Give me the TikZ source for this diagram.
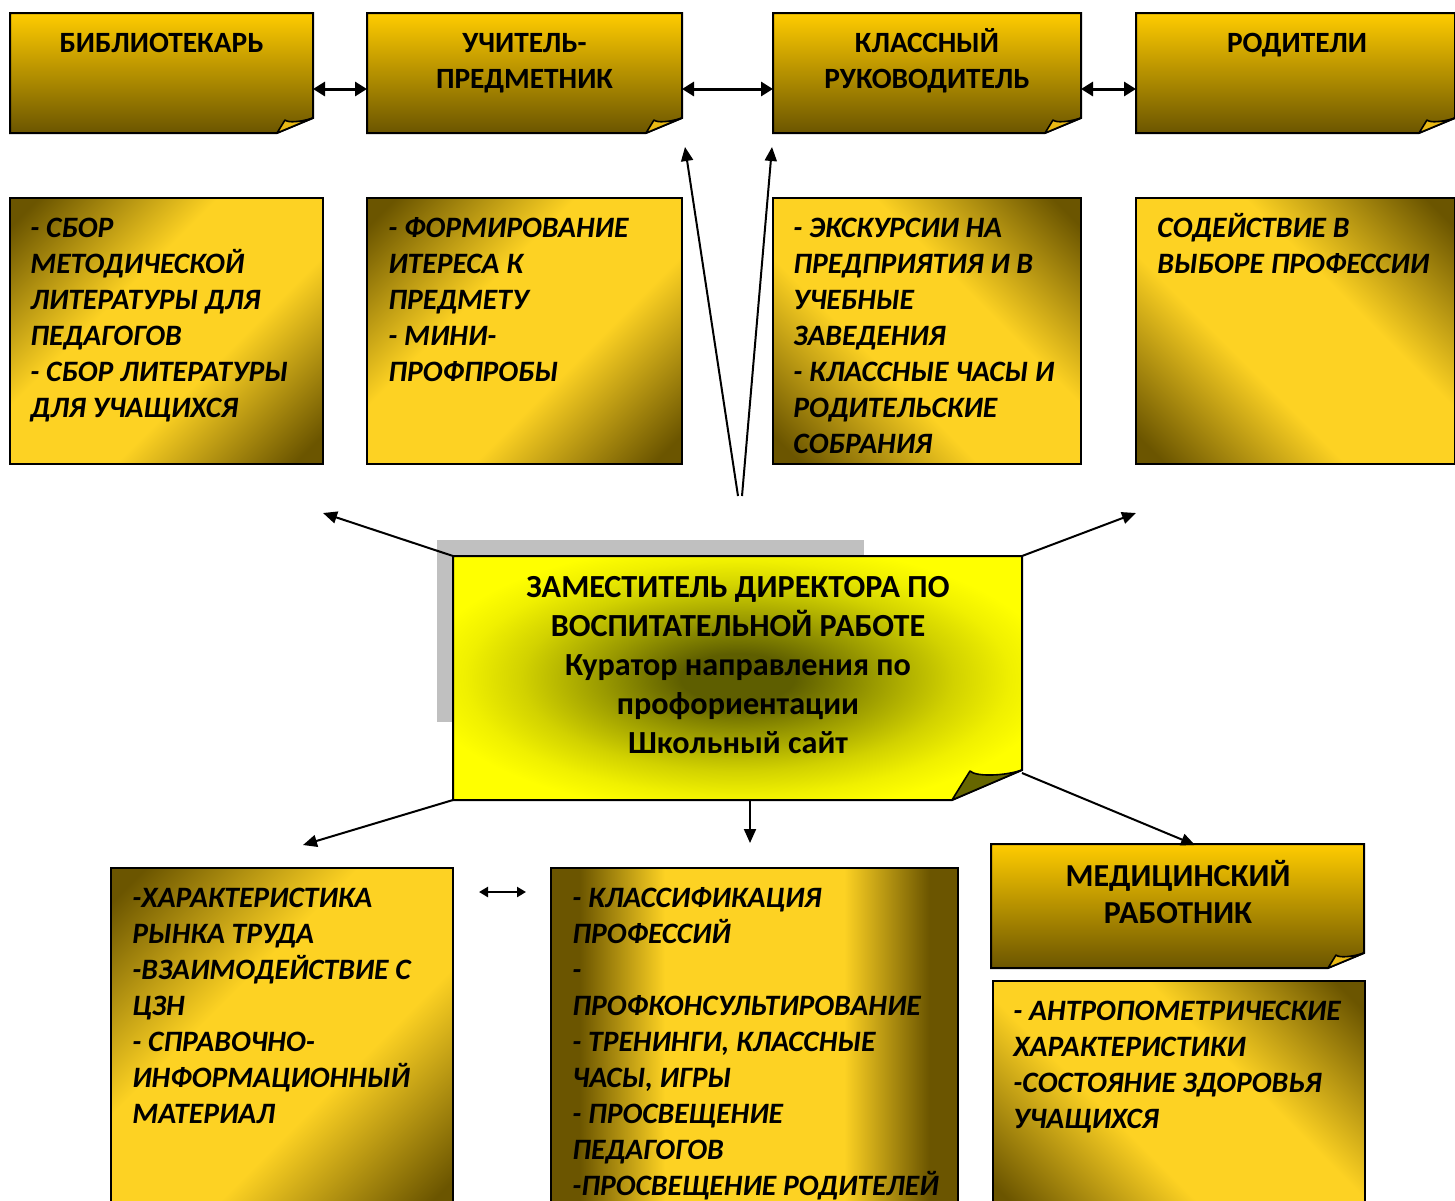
\documentclass[tikz,border=0pt]{standalone}
\usepackage{fontspec}
\setmainfont{Carlito}
\usetikzlibrary{arrows.meta}
\definecolor{gtop}{HTML}{FFCC00}
\definecolor{gdark}{HTML}{6B5500}
\definecolor{gmid}{HTML}{B89400}
\definecolor{glight}{HTML}{FDD223}
\definecolor{gfold}{HTML}{E8B815}
\definecolor{ydark}{HTML}{5E5E00}
\definecolor{ymid}{HTML}{9A9A00}
\definecolor{ylite}{HTML}{D2D200}
\definecolor{ypale}{HTML}{F0F000}
\definecolor{yfold}{HTML}{666600}
\definecolor{shadowgray}{HTML}{C0C0C0}
\pgfdeclarehorizontalshading{goldrefl}{100bp}{color(0bp)=(gdark); color(18bp)=(gdark); color(40bp)=(glight); color(60bp)=(glight); color(82bp)=(gdark); color(100bp)=(gdark)}
\pgfdeclarehorizontalshading{goldhoriz}{100bp}{color(0bp)=(gdark); color(25bp)=(gdark); color(28.5bp)=(gdark); color(39bp)=(glight); color(61bp)=(glight); color(71.5bp)=(gdark); color(75bp)=(gdark); color(100bp)=(gdark)}
\pgfdeclareradialshading{ctrglow}{\pgfpoint{0bp}{0bp}}{color(0bp)=(ydark); color(5bp)=(ydark); color(12bp)=(ymid); color(19bp)=(ylite); color(24bp)=(ypale); color(28bp)=(yellow); color(50bp)=(yellow)}
\tikzset{
  slot/.style={inner sep=0pt, outer sep=0pt, draw=none},
  hdrshade/.style={draw=black, line width=1pt, top color=gtop, bottom color=gdark},
  diagA/.style={draw=black, line width=1pt, shading=goldrefl, shading angle=-45},
  diagB/.style={draw=black, line width=1pt, shading=goldrefl, shading angle=45},
  horiz/.style={draw=black, line width=1pt, shading=goldhoriz, shading angle=0},
  foldg/.style={draw=black, line width=0.8pt, line join=round, fill=gfold},
  hdrtext/.style={font=\fontsize{14.7}{18}\selectfont\bfseries, align=center, inner sep=0pt, anchor=north},
  desctext/.style={font=\fontsize{14.8}{18}\selectfont\bfseries\itshape, align=left, inner sep=0pt, anchor=north west},
  ctrtext/.style={font=\fontsize{16.1}{19.5}\selectfont\bfseries, align=center, inner sep=0pt, anchor=north},
  medtext/.style={font=\fontsize{16}{18.5}\selectfont\bfseries, align=center, inner sep=0pt, anchor=north},
  conn/.style={line width=1pt, -{Triangle[length=7pt,width=6pt]}},
  dbl/.style={line width=1.5pt, {Triangle[length=6pt,width=7pt]}-{Triangle[length=6pt,width=7pt]}},
  dblsmall/.style={line width=1.2pt, {Triangle[length=4.5pt,width=5pt]}-{Triangle[length=4.5pt,width=5pt]}},
}
% header box with folded corner: name, x0, y0, x1, y1
\newcommand\hdrbox[5]{%
  \node[slot, anchor=north west, minimum width=(#4-#2)*0.5pt, minimum height=(#5-#3)*0.5pt] (#1) at (#2,#3) {};
  \path[hdrshade] (#2,#3) -- (#4,#3) -- (#4,#5-15) -- (#4-36,#5) -- (#2,#5) -- cycle;
  \path[foldg] (#4-36,#5) -- (#4-28,#5-13) .. controls (#4-25,#5-10) and (#4-12,#5-11) .. (#4,#5-15) -- cycle;
}
% plain shaded box: name, style, x0, y0, x1, y1
\newcommand\descbox[6]{%
  \node[slot, anchor=north west, minimum width=(#5-#3)*0.5pt, minimum height=(#6-#4)*0.5pt] (#1) at (#3,#4) {};
  \path[#2] (#3,#4) rectangle (#5,#6);
}
\begin{document}
\begin{tikzpicture}[x=0.5pt,y=-0.5pt]
\useasboundingbox (0,0) rectangle (1455,1200);
\clip (0,0) rectangle (1455,1200);
\fill[white] (0,0) rectangle (1455,1200);

% header row
\hdrbox{h1}{10}{13}{313}{133}
\hdrbox{h2}{367}{13}{682}{133}
\hdrbox{h3}{773}{13}{1081}{133}
\hdrbox{h4}{1136}{13}{1455}{133}
\node[hdrtext] (t1) at (161.5,26.8) {\strut БИБЛИОТЕКАРЬ};
\node[hdrtext] (t2) at (524.5,26.8) {\strut УЧИТЕЛЬ-\\ПРЕДМЕТНИК};
\node[hdrtext] (t3) at (927,26.8) {\strut КЛАССНЫЙ\\РУКОВОДИТЕЛЬ};
\node[hdrtext] (t4) at (1297,26.8) {\strut РОДИТЕЛИ};

% description row
\descbox{d1}{diagA}{10}{198}{323}{464}
\descbox{d2}{diagA}{367}{198}{682}{464}
\descbox{d3}{diagB}{773}{198}{1081}{464}
\descbox{d4}{diagB}{1136}{198}{1455}{464}
\node[desctext] (td1) at (30,211.8) {\strut- СБОР\\МЕТОДИЧЕСКОЙ\\ЛИТЕРАТУРЫ ДЛЯ\\ПЕДАГОГОВ\\- СБОР ЛИТЕРАТУРЫ\\ДЛЯ УЧАЩИХСЯ};
\node[desctext] (td2) at (388,211.8) {\strut- ФОРМИРОВАНИЕ\\ИТЕРЕСА К\\ПРЕДМЕТУ\\- МИНИ-\\ПРОФПРОБЫ};
\node[desctext] (td3) at (793,211.8) {\strut- ЭКСКУРСИИ НА\\ПРЕДПРИЯТИЯ И В\\УЧЕБНЫЕ\\ЗАВЕДЕНИЯ\\- КЛАССНЫЕ ЧАСЫ И\\РОДИТЕЛЬСКИЕ\\СОБРАНИЯ};
\node[desctext] (td4) at (1157,211.8) {\strut СОДЕЙСТВИЕ В\\ВЫБОРЕ ПРОФЕССИИ};

% central box
\fill[shadowgray] (437,540) rectangle (864,722);
\node[slot, anchor=north west, minimum width=569*0.5pt, minimum height=244*0.5pt] (c) at (453,556) {};
\path[draw=black, line width=1pt, shading=ctrglow] (453,556) -- (1022,556) -- (1022,770) -- (952,800) -- (453,800) -- cycle;
\path[draw=black, line width=0.8pt, line join=round, fill=yfold] (952,800) -- (970,771) .. controls (976,777) and (1005,776) .. (1022,770) -- cycle;
\node[ctrtext] (tc) at (738,570) {\strut ЗАМЕСТИТЕЛЬ ДИРЕКТОРА ПО\\ВОСПИТАТЕЛЬНОЙ РАБОТЕ\\Куратор направления по\\профориентации\\Школьный сайт};

% bottom row
\descbox{b1}{diagA}{111}{868}{453}{1215}
\descbox{b2}{horiz}{551}{868}{958}{1215}
\hdrbox{mh}{991}{844}{1364}{968}
\descbox{md}{diagB}{993}{981}{1365}{1215}
\node[desctext] (tb1) at (132,881.8) {\strut-ХАРАКТЕРИСТИКА\\РЫНКА ТРУДА\\-ВЗАИМОДЕЙСТВИЕ С\\ЦЗН\\- СПРАВОЧНО-\\ИНФОРМАЦИОННЫЙ\\МАТЕРИАЛ};
\node[desctext] (tb2) at (572,881.8) {\strut- КЛАССИФИКАЦИЯ\\ПРОФЕССИЙ\\-\\ПРОФКОНСУЛЬТИРОВАНИЕ\\- ТРЕНИНГИ, КЛАССНЫЕ\\ЧАСЫ, ИГРЫ\\- ПРОСВЕЩЕНИЕ\\ПЕДАГОГОВ\\-ПРОСВЕЩЕНИЕ РОДИТЕЛЕЙ};
\node[medtext] (tmh) at (1178,860.4) {\strut МЕДИЦИНСКИЙ\\РАБОТНИК};
\node[desctext] (tmd) at (1013,994.8) {\strut- АНТРОПОМЕТРИЧЕСКИЕ\\ХАРАКТЕРИСТИКИ\\-СОСТОЯНИЕ ЗДОРОВЬЯ\\УЧАЩИХСЯ};

% connectors
\coordinate (up1s) at (738,496);
\coordinate (up1e) at (685,147);
\coordinate (up2s) at (742,496);
\coordinate (up2e) at (772,147);
\coordinate (ul) at (323,513);
\coordinate (ur) at (1136,513);
\coordinate (dl) at (303,845);
\coordinate (dm) at (750,843);
\coordinate (dr) at (1195,845);
\coordinate (bl) at (479,892);
\coordinate (br) at (526,892);

\draw[dbl] (313,89) -- (367,89);
\draw[dbl] (682,89) -- (773,89);
\draw[dbl] (1081,89) -- (1136,89);
\draw[conn] (up1s) -- (up1e);
\draw[conn] (up2s) -- (up2e);
\draw[conn] (c.north west) -- (ul);
\draw[conn] (c.north east) -- (ur);
\draw[conn] (c.south west) -- (dl);
\draw[conn] (750,800) -- (dm);
\draw[conn] (1022,773) -- (dr);
\draw[dblsmall] (bl) -- (br);
\end{tikzpicture}
\end{document}
